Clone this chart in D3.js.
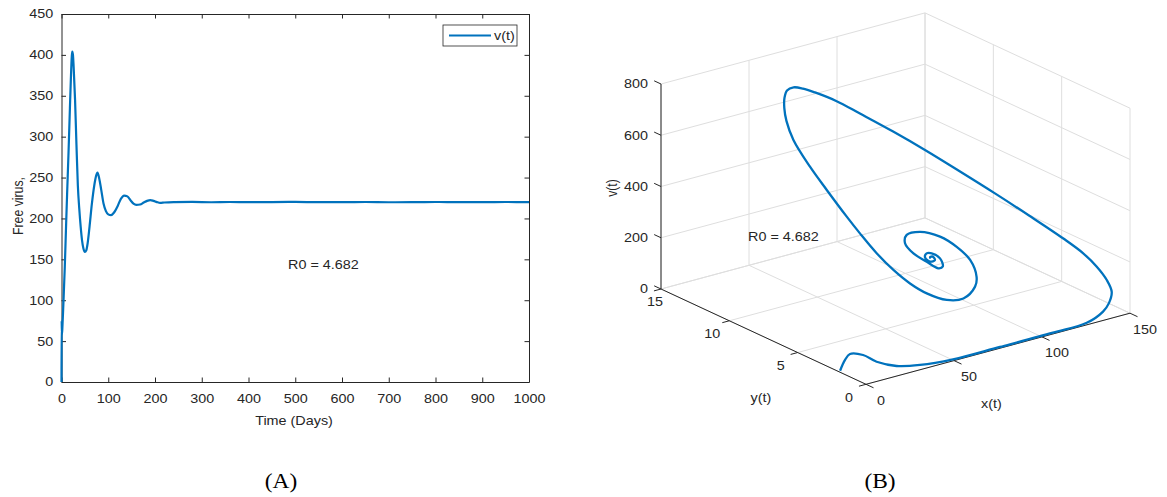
<!DOCTYPE html>
<html>
<head>
<meta charset="utf-8">
<script src="https://cdn.jsdelivr.net/npm/d3@7"></script>
<style>
  body { margin: 0; background: #fff; }
  text { font-family: "Liberation Sans", Arial, sans-serif; fill: #262626; }
</style>
</head>
<body>
<svg id="fig" width="1167" height="497"></svg>
<script>
// ---- panel A : free virus vs time ----
const daysA = [0, 0.3, 1, 2, 4, 7, 10, 12, 15, 18, 20, 22, 23, 24.5, 26, 29, 32, 35, 38, 41, 44, 47, 50, 53, 56, 60, 65, 70, 74, 77, 81, 85, 90, 95, 100, 106, 112, 120, 127, 134, 141, 148, 154, 160, 168, 176, 183, 190, 197, 204, 211, 220, 240, 280, 320, 360, 400, 450, 500, 550, 600, 650, 700, 750, 800, 850, 900, 950, 1000];
const virusA = [0, 75, 58, 68, 95, 140, 195, 230, 280, 335, 370, 398, 404, 400, 385, 345, 290, 240, 212, 190, 173, 163, 159, 161, 170, 190, 218, 240, 252, 256, 248, 235, 218, 209, 205, 204, 207, 215, 224, 228, 227, 222, 218, 216.5, 217, 219.5, 221.5, 222.5, 221.5, 220, 219, 219.5, 220, 220.2, 219.8, 220.1, 219.9, 220, 220.2, 219.9, 220, 220.1, 219.8, 220, 220.1, 219.9, 220, 220.1, 220];
const timeTicks = [0, 100, 200, 300, 400, 500, 600, 700, 800, 900, 1000];
const virusTicks = [0, 50, 100, 150, 200, 250, 300, 350, 400, 450];

// ---- panel B : phase portrait x(t), y(t), v(t) ----
const xB = [1.2, 4.4, 7.2, 13.1, 16.9, 23.6, 33.8, 50.6, 76.9, 107, 126.6, 137.4, 142.3, 146.6, 146.9, 145.1, 141.9, 136.2, 126, 115.2, 103.9, 93, 82.2, 71.1, 63.8, 57.2, 53.5, 50.5, 48.7, 48.4, 49.1, 50.3, 53.5, 59.8, 63.9, 66.7, 68.1, 67.4, 67.6, 68.5, 71.8, 78.5, 86.4, 93.8, 97.0, 98.0, 95.8, 91.0, 83.5, 76.7, 74.2, 75.1, 78.8, 81.5, 84.0, 83.6, 81.2, 79.1, 77.8, 78.7, 81.1, 80.6, 79.1, 79.5];
const yB = [2.05, 2.1, 2.1, 1.9, 1.4, 0.8, 0.4, 0.15, 0.1, 0.1, 0.15, 0.35, 0.55, 0.9, 1.3, 1.8, 2.4, 3.1, 4.3, 5.4, 6.5, 7.6, 8.6, 9.6, 10.4, 11.1, 11.5, 11.8, 12.05, 12.2, 12.3, 12.3, 12.2, 11.8, 11.1, 10.0, 9.2, 7.9, 6.7, 5.6, 4.8, 4.2, 4.0, 4.1, 4.4, 5.0, 5.7, 6.3, 6.8, 6.9, 6.7, 6.2, 5.7, 5.2, 5.2, 5.35, 5.65, 5.75, 5.7, 5.45, 5.4, 5.5, 5.5, 5.5];
const vB = [0, 35, 53, 43, 22, 8, 3, 0, 1, 1, 2, 21, 40, 67, 103, 146, 190, 240, 319, 398, 477, 552, 621, 687, 730, 758, 770, 773, 758, 725, 682, 630, 552, 446, 365, 283, 234, 191, 155, 128, 103, 80, 76, 106, 131, 180, 218, 252, 272, 270, 247, 218, 191, 173, 175, 204, 221, 222, 210, 198, 201, 213, 213, 208];
const xTicksB = [0, 50, 100, 150];
const yTicksB = [0, 5, 10, 15];
const vTicksB = [0, 200, 400, 600, 800];

const blue = "#0072BD";
const ink = "#262626";
const gridCol = "#dedede";
const SX = 1.17;   // the picture is a little wider than tall
const fs = 12.3;

const svg = d3.select("#fig");

function label(g, x, y, s, anchor, size, rot, family) {
  const t = g.append("g")
    .attr("transform", `translate(${x},${y}) scale(${SX},1)` + (rot ? ` rotate(${rot})` : ""));
  const el = t.append("text")
    .attr("text-anchor", anchor)
    .attr("dy", "0.35em")
    .attr("font-size", size)
    .text(s);
  if (family) el.style("font-family", family);
  return el;
}

// ================= panel A =================
const xL = d3.scaleLinear().domain([0, 1000]).range([61.5, 529]);
const yL = d3.scaleLinear().domain([0, 450]).range([382, 14]);

const gA = svg.append("g");

const styleAxis = sel => {
  sel.selectAll("path,line").attr("stroke", ink).attr("stroke-width", 1);
  sel.selectAll("text").attr("font-size", fs).attr("fill", ink)
    .style("font-family", "'Liberation Sans', Arial, sans-serif")
    .attr("transform", `scale(${SX},1)`);
};

gA.append("g").attr("transform", `translate(0,${yL(0)})`)
  .call(d3.axisBottom(xL).tickValues(timeTicks).tickFormat(d3.format("d"))
    .tickSizeInner(-4.5).tickSizeOuter(0).tickPadding(12))
  .call(styleAxis);
gA.append("g").attr("transform", `translate(0,${yL(450)})`)
  .call(d3.axisTop(xL).tickValues(timeTicks).tickSizeInner(-4.5).tickSizeOuter(0).tickFormat(""))
  .call(styleAxis);
gA.append("g").attr("transform", `translate(${xL(0)},0)`)
  .call(d3.axisLeft(yL).tickValues(virusTicks).tickSizeInner(-4.5).tickSizeOuter(0).tickPadding(7))
  .call(styleAxis);
gA.append("g").attr("transform", `translate(${xL(1000)},0)`)
  .call(d3.axisRight(yL).tickValues(virusTicks).tickSizeInner(-4.5).tickSizeOuter(0).tickFormat(""))
  .call(styleAxis);

const lineA = d3.line()
  .x((d, i) => xL(daysA[i]))
  .y(d => yL(d))
  .curve(d3.curveMonotoneX);

gA.append("path")
  .attr("d", lineA(virusA))
  .attr("fill", "none")
  .attr("stroke", blue)
  .attr("stroke-width", 2.2)
  .attr("stroke-linejoin", "round");

label(gA, 17.5, 206, "Free virus,", "middle", fs, -90);
label(gA, 294, 421, "Time (Days)", "middle", fs);
label(gA, 288, 265, "R0 = 4.682", "start", fs);

// legend
gA.append("rect").attr("x", 443).attr("y", 25).attr("width", 74).attr("height", 21)
  .attr("fill", "#fff").attr("stroke", ink).attr("stroke-width", 0.8);
gA.append("line").attr("x1", 449).attr("x2", 491).attr("y1", 35.5).attr("y2", 35.5)
  .attr("stroke", blue).attr("stroke-width", 2.2);
label(gA, 494, 35.5, "v(t)", "start", fs);

// ================= panel B =================
const fx = d3.scaleLinear().domain([0, 150]).range([0, 1]);
const fy = d3.scaleLinear().domain([0, 15]).range([0, 1]);
const fz = d3.scaleLinear().domain([0, 800]).range([0, 1]);
const O = [866, 384.3], XE = [1130, 313.2], YE = [661, 289], ZH = 205;

function proj(x, y, z) {
  const a = fx(x), b = fy(y), c = fz(z);
  return [O[0] + a * (XE[0] - O[0]) + b * (YE[0] - O[0]),
          O[1] + a * (XE[1] - O[1]) + b * (YE[1] - O[1]) - c * ZH];
}

const gB = svg.append("g");
function seg(p, q, col, w) {
  gB.append("line")
    .attr("x1", p[0]).attr("y1", p[1]).attr("x2", q[0]).attr("y2", q[1])
    .attr("stroke", col).attr("stroke-width", w || 1);
}

// grid: floor
xTicksB.forEach(x => seg(proj(x, 0, 0), proj(x, 15, 0), gridCol));
yTicksB.forEach(y => seg(proj(0, y, 0), proj(150, y, 0), gridCol));
// back wall y = 15
xTicksB.forEach(x => seg(proj(x, 15, 0), proj(x, 15, 800), gridCol));
vTicksB.forEach(z => seg(proj(0, 15, z), proj(150, 15, z), gridCol));
// back wall x = 150
yTicksB.forEach(y => seg(proj(150, y, 0), proj(150, y, 800), gridCol));
vTicksB.forEach(z => seg(proj(150, 0, z), proj(150, 15, z), gridCol));

// axes
seg(proj(0, 0, 0), proj(150, 0, 0), ink);
seg(proj(0, 0, 0), proj(0, 15, 0), ink);
seg(proj(0, 15, 0), proj(0, 15, 800), ink);

xTicksB.forEach(x => {
  seg(proj(x, 0, 0), proj(x, -0.55, 0), ink);
  const p = proj(x, 0, 0);
  label(gB, p[0] + 15, p[1] + 16, String(x), "middle", fs);
});
yTicksB.forEach(y => {
  seg(proj(0, y, 0), proj(-4, y, 0), ink);
  const p = proj(0, y, 0);
  // the last label is pushed right, clear of the "0" of the v axis
  label(gB, p[0] + (y === 15 ? -6 : -17), p[1] + 13, String(y), "middle", fs);
});
vTicksB.forEach(z => {
  seg(proj(0, 15, z), proj(0, 15.5, z), ink);
  const p = proj(0, 15, z);
  label(gB, p[0] - 13, p[1], String(z), "end", fs);
});

label(gB, 991.5, 404, "x(t)", "middle", fs);
label(gB, 761, 398, "y(t)", "middle", fs);
label(gB, 612, 188, "v(t)", "middle", fs, -90);
label(gB, 748, 237, "R0 = 4.682", "start", fs);

const pts = xB.map((x, i) => proj(x, yB[i], vB[i]));
gB.append("path")
  .attr("d", d3.line().curve(d3.curveCatmullRom.alpha(0.5))(pts))
  .attr("fill", "none")
  .attr("stroke", blue)
  .attr("stroke-width", 2.3)
  .attr("stroke-linejoin", "round");

// panel captions
label(svg, 281, 481, "(A)", "middle", 20, 0, "'Liberation Serif', 'Times New Roman', serif").style("fill", "#000");
label(svg, 880, 481, "(B)", "middle", 20, 0, "'Liberation Serif', 'Times New Roman', serif").style("fill", "#000");
</script>
</body>
</html>
